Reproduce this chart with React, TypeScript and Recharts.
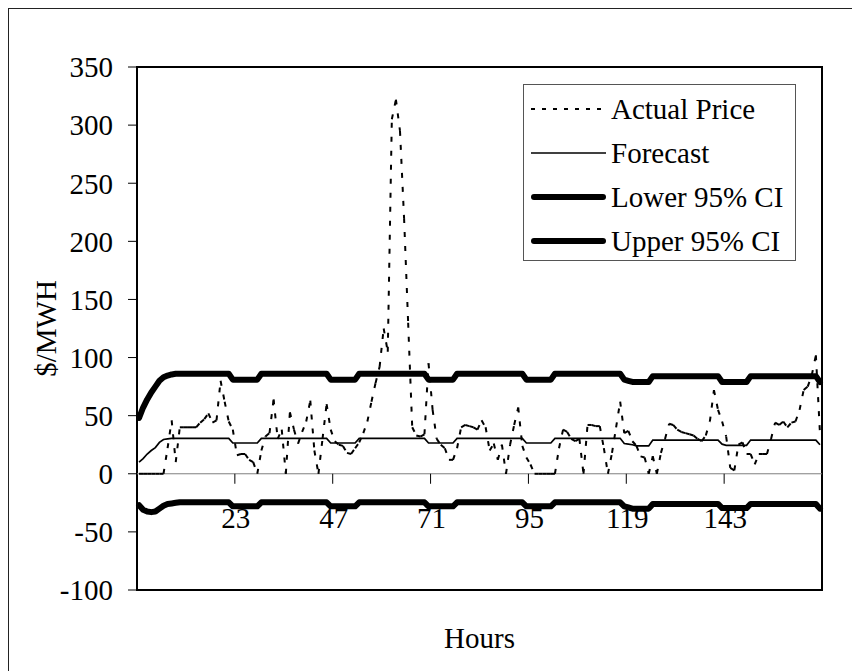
import React from "react";
import {
  LineChart,
  Line,
  XAxis,
  YAxis,
  ReferenceLine,
  ReferenceArea,
  Legend,
} from "recharts";

// hourly values, hours 0..167
const actualPrice = [
  0, 0, 0, 0, 0, 0, 0, 22, 46, 10,
  40, 40, 40, 40, 40, 44, 47, 52, 44, 46,
  80, 62, 45, 38, 16, 17, 17, 12, 10, 0,
  20, 32, 35, 64, 30, 38, 0, 53, 38, 26,
  36, 45, 63, 20, 0, 30, 60, 38, 28, 25,
  24, 18, 17, 22, 27, 35, 45, 62, 78, 92,
  125, 105, 305, 322, 295, 220, 130, 40, 33, 32,
  34, 95, 55, 30, 25, 22, 12, 12, 22, 40,
  42, 41, 40, 38, 46, 40, 20, 26, 12, 25,
  0, 25, 42, 57, 24, 14, 8, 0, 0, 0,
  0, 0, 0, 22, 38, 36, 30, 28, 30, 0,
  42, 42, 41, 41, 22, 0, 18, 40, 62, 35,
  37, 28, 24, 15, 14, 0, 15, 0, 18, 30,
  43, 42, 38, 36, 35, 34, 33, 30, 28, 33,
  45, 72, 55, 45, 32, 5, 3, 25, 27, 17,
  17, 8, 17, 17, 17, 30, 44, 42, 45, 40,
  44, 45, 55, 72, 75, 85, 102, 35,
];

const forecast = [
  10, 13, 17, 20, 22.5, 27, 29.5, 30, 30.5, 30.5,
  30.5, 30.5, 30.5, 30.5, 30.5, 30.5, 30.5, 30.5, 30.5, 30.5,
  30.5, 30.5, 30.5, 26.5, 26.5, 26.5, 26.5, 26.5, 26.5, 26.5,
  30.5, 30.5, 30.5, 30.5, 30.5, 30.5, 30.5, 30.5, 30.5, 30.5,
  30.5, 30.5, 30.5, 30.5, 30.5, 30.5, 30.5, 26.5, 26.5, 26.5,
  26.5, 26.5, 26.5, 26.5, 30.5, 30.5, 30.5, 30.5, 30.5, 30.5,
  30.5, 30.5, 30.5, 30.5, 30.5, 30.5, 30.5, 30.5, 30.5, 30.5,
  30.5, 26.5, 26.5, 26.5, 26.5, 26.5, 26.5, 26.5, 30.5, 30.5,
  30.5, 30.5, 30.5, 30.5, 30.5, 30.5, 30.5, 30.5, 30.5, 30.5,
  30.5, 30.5, 30.5, 30.5, 30.5, 26.5, 26.5, 26.5, 26.5, 26.5,
  26.5, 26.5, 30.5, 30.5, 30.5, 30.5, 30.5, 30.5, 30.5, 30.5,
  30.5, 30.5, 30.5, 30.5, 30.5, 30.5, 30.5, 30.5, 30.5, 26,
  25.5, 25, 24, 24, 24, 24, 29, 29, 29, 29,
  29, 29, 29, 29, 29, 29, 29, 29, 29, 29,
  29, 29, 29, 25.5, 24.5, 24.5, 24.5, 24.5, 24.5, 24.5,
  29, 29, 29, 29, 29, 29, 29, 29, 29, 29,
  29, 29, 29, 29, 29, 29, 29, 25,
];

const lowerCI = [
  -27, -31, -32.5, -33, -32.5, -30, -27.5, -26, -25.5, -25,
  -24.5, -24.5, -24.5, -24.5, -24.5, -24.5, -24.5, -24.5, -24.5, -24.5,
  -24.5, -24.5, -24.5, -28, -28, -28, -28, -28, -28, -28,
  -24.5, -24.5, -24.5, -24.5, -24.5, -24.5, -24.5, -24.5, -24.5, -24.5,
  -24.5, -24.5, -24.5, -24.5, -24.5, -24.5, -24.5, -28, -28, -28,
  -28, -28, -28, -28, -24.5, -24.5, -24.5, -24.5, -24.5, -24.5,
  -24.5, -24.5, -24.5, -24.5, -24.5, -24.5, -24.5, -24.5, -24.5, -24.5,
  -24.5, -28, -28, -28, -28, -28, -28, -28, -24.5, -24.5,
  -24.5, -24.5, -24.5, -24.5, -24.5, -24.5, -24.5, -24.5, -24.5, -24.5,
  -24.5, -24.5, -24.5, -24.5, -24.5, -28, -28, -28, -28, -28,
  -28, -28, -24.5, -24.5, -24.5, -24.5, -24.5, -24.5, -24.5, -24.5,
  -24.5, -24.5, -24.5, -24.5, -24.5, -24.5, -24.5, -24.5, -24.5, -28,
  -29, -30, -30, -30, -30, -30, -26, -26, -26, -26,
  -26, -26, -26, -26, -26, -26, -26, -26, -26, -26,
  -26, -26, -26, -29.5, -29.5, -29.5, -29.5, -29.5, -29.5, -29.5,
  -26, -26, -26, -26, -26, -26, -26, -26, -26, -26,
  -26, -26, -26, -26, -26, -26, -26, -30,
];

const upperCI = [
  48, 57, 64, 70, 75, 80, 83, 84.5, 85.5, 86,
  86, 86, 86, 86, 86, 86, 86, 86, 86, 86,
  86, 86, 86, 81, 81, 81, 81, 81, 81, 81,
  86, 86, 86, 86, 86, 86, 86, 86, 86, 86,
  86, 86, 86, 86, 86, 86, 86, 81, 81, 81,
  81, 81, 81, 81, 86, 86, 86, 86, 86, 86,
  86, 86, 86, 86, 86, 86, 86, 86, 86, 86,
  86, 81, 81, 81, 81, 81, 81, 81, 86, 86,
  86, 86, 86, 86, 86, 86, 86, 86, 86, 86,
  86, 86, 86, 86, 86, 81, 81, 81, 81, 81,
  81, 81, 86, 86, 86, 86, 86, 86, 86, 86,
  86, 86, 86, 86, 86, 86, 86, 86, 86, 81,
  80, 79, 79, 79, 79, 79, 84, 84, 84, 84,
  84, 84, 84, 84, 84, 84, 84, 84, 84, 84,
  84, 84, 84, 79, 79, 79, 79, 79, 79, 79,
  84, 84, 84, 84, 84, 84, 84, 84, 84, 84,
  84, 84, 84, 84, 84, 84, 84, 79,
];

const xTicks = [23.5, 47.5, 71.5, 95.5, 119.5, 143.5];
const xTickLabels = ["23", "47", "71", "95", "119", "143"];
const yTicks = [-100, -50, 0, 50, 100, 150, 200, 250, 300, 350];

const seriesNames = ["Actual Price", "Forecast", "Lower 95% CI", "Upper 95% CI"];

const data = actualPrice.map((v, i) => ({
  h: i,
  actual: v,
  forecast: forecast[i],
  lower: lowerCI[i],
  upper: upperCI[i],
}));

const FONT = '"Liberation Serif", "Times New Roman", serif';
const FS = 29;

const W = 852;
const H = 663;
const MARGIN = { top: 59, right: 38, bottom: 0, left: 0 };
const X_AXIS_H = 81;
const Y_AXIS_W = 129;
const Y_MIN = -100;
const Y_MAX = 350;
const PLOT_H = H - MARGIN.top - MARGIN.bottom - X_AXIS_H;
const ZERO_Y = MARGIN.top + (PLOT_H * Y_MAX) / (Y_MAX - Y_MIN);

// x ticks sit on the zero line, labels hang below the lower band
const renderHourTick = (props: any) => {
  const { x, payload } = props;
  const i = xTicks.indexOf(payload.value);
  return (
    <g>
      <line x1={x} x2={x} y1={ZERO_Y} y2={ZERO_Y + 10} stroke="#000" />
      <text x={x + 1} y={ZERO_Y + 54} textAnchor="middle" fill="#000" fontSize={FS} fontFamily={FONT}>
        {xTickLabels[i]}
      </text>
    </g>
  );
};

const renderYTitle = (props: any) => {
  const vb = props.viewBox;
  const cx = vb.x + 38;
  const cy = vb.y + vb.height / 2;
  return (
    <text
      x={cx}
      y={cy}
      transform={`rotate(-90, ${cx}, ${cy})`}
      textAnchor="middle"
      dominantBaseline="central"
      fill="#000"
      fontSize={FS}
      fontFamily={FONT}
    >
      $/MWH
    </text>
  );
};

// Excel restarts the dash pattern on every segment, so draw each hour step on its own
const renderPriceSegment = (props: any) => {
  const { index, points, cx, cy } = props;
  if (!points || index === 0) return <g key={`seg-${index}`} />;
  const prev = points[index - 1];
  return (
    <line
      key={`seg-${index}`}
      x1={prev.x}
      y1={prev.y}
      x2={cx}
      y2={cy}
      stroke="#000"
      strokeWidth={2}
      strokeDasharray="5 9"
    />
  );
};

const legendStyle: Record<string, { w: number; dash?: string }> = {
  "Actual Price": { w: 2, dash: "4 7" },
  Forecast: { w: 1.7 },
  "Lower 95% CI": { w: 6 },
  "Upper 95% CI": { w: 6 },
};

const renderLegend = () => (
  <div
    style={{
      boxSizing: "border-box",
      width: 273,
      height: 177,
      border: "1px solid #555",
      background: "#fff",
      paddingTop: 2,
      fontFamily: FONT,
      fontSize: FS,
      color: "#000",
    }}
  >
    {seriesNames.map((name) => {
      const s = legendStyle[name];
      return (
        <div key={name} style={{ display: "flex", alignItems: "center", height: 44, lineHeight: "44px" }}>
          <svg width={84} height={44} style={{ display: "block" }}>
            <line
              x1={s.w > 3 ? 10 : 7}
              x2={s.w > 3 ? 79 : 82}
              y1={22}
              y2={22}
              stroke="#000"
              strokeWidth={s.w}
              strokeLinecap={s.w > 3 ? "round" : "butt"}
              strokeDasharray={s.dash}
            />
          </svg>
          <span style={{ marginLeft: 3, whiteSpace: "nowrap" }}>{name}</span>
        </div>
      );
    })}
  </div>
);

export default function App() {
  return (
    <div style={{ position: "relative", width: W, height: H }}>
      <div
        style={{
          position: "absolute",
          left: 0,
          top: 0,
          right: 0,
          bottom: 0,
          borderLeft: "1px solid #222",
          borderTop: "1px solid #222",
        }}
      />
      <div style={{ position: "absolute", left: 0, top: 0 }}>
        <LineChart width={W} height={H} data={data} margin={MARGIN}>
          <ReferenceLine y={0} stroke="#7f7f7f" strokeWidth={1} />
          <XAxis
            dataKey="h"
            type="number"
            domain={[-0.5, 167.5]}
            ticks={xTicks}
            interval={0}
            axisLine={false}
            tickLine={false}
            tick={renderHourTick}
            height={X_AXIS_H}
            label={{ value: "Hours", position: "center", dy: 7, fill: "#000", fontSize: FS, fontFamily: FONT }}
          />
          <YAxis
            type="number"
            domain={[Y_MIN, Y_MAX]}
            ticks={yTicks}
            interval={0}
            width={Y_AXIS_W}
            axisLine={false}
            tickLine={{ stroke: "#000" }}
            tickSize={9}
            tickMargin={15}
            tick={{ fill: "#000", fontSize: FS, fontFamily: FONT }}
            label={renderYTitle}
          />
          <Line
            dataKey="actual"
            name="Actual Price"
            type="linear"
            stroke="none"
            dot={renderPriceSegment}
            activeDot={false}
            isAnimationActive={false}
          />
          <Line
            dataKey="forecast"
            name="Forecast"
            type="linear"
            stroke="#000"
            strokeWidth={1.7}
            dot={false}
            activeDot={false}
            isAnimationActive={false}
          />
          <Line
            dataKey="lower"
            name="Lower 95% CI"
            type="linear"
            stroke="#000"
            strokeWidth={6}
            strokeLinejoin="round"
            strokeLinecap="round"
            dot={false}
            activeDot={false}
            isAnimationActive={false}
          />
          <Line
            dataKey="upper"
            name="Upper 95% CI"
            type="linear"
            stroke="#000"
            strokeWidth={6}
            strokeLinejoin="round"
            strokeLinecap="round"
            dot={false}
            activeDot={false}
            isAnimationActive={false}
          />
          <ReferenceArea
            x1={-0.5}
            x2={167.5}
            y1={Y_MIN}
            y2={Y_MAX}
            fill="none"
            fillOpacity={0}
            stroke="#000"
            strokeWidth={2}
          />
          <Legend
            layout="vertical"
            align="center"
            verticalAlign="middle"
            wrapperStyle={{ left: 515, top: 76, width: 273, height: 177 }}
            content={renderLegend}
          />
        </LineChart>
      </div>
    </div>
  );
}
